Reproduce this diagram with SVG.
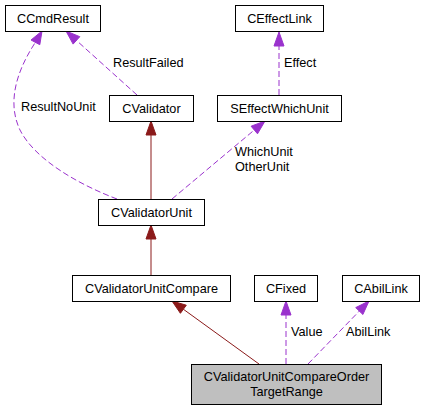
<svg xmlns="http://www.w3.org/2000/svg" width="425" height="411" viewBox="0 0 425 411">
<style>
text{font-family:"Liberation Sans",Arial,sans-serif;font-size:12.7px;fill:#000}
.box{fill:#fff;stroke:#000;stroke-width:1}
.cur{fill:#bfbfbf;stroke:#000;stroke-width:1}
.inh{stroke:#8b1a1a;fill:none;stroke-width:1}
.inhh{fill:#8b1a1a;stroke:#8b1a1a}
.use{stroke:#9a32cd;fill:none;stroke-width:1;stroke-dasharray:6,3}
.useh{fill:#9a32cd;stroke:#9a32cd}
</style>
<rect width="425" height="411" fill="#fff"/>
<g id="connectors">
<line class="inh" x1="151" y1="199" x2="151" y2="135"/>
<polygon class="inhh" points="146,135 151,121 156,135"/>
<line class="inh" x1="151" y1="275" x2="151" y2="239"/>
<polygon class="inhh" points="146,239 151,225 156,239"/>
<line class="inh" x1="259" y1="364" x2="183.3" y2="309.2"/>
<polygon class="inhh" points="180.4,313.3 172,301 186.3,305.2"/>
<line class="use" x1="286" y1="364" x2="286" y2="315"/>
<polygon class="useh" points="281,315 286,301 291,315"/>
<line class="use" x1="308" y1="364" x2="359.3" y2="311.1"/>
<polygon class="useh" points="362.9,314.5 369,301 355.7,307.6"/>
<line class="use" x1="279" y1="95" x2="279" y2="46"/>
<polygon class="useh" points="274,46 279,32 284,46"/>
<line class="use" x1="172" y1="199" x2="254.3" y2="130"/>
<polygon class="useh" points="257.5,133.8 265,121 251.1,126.2"/>
<line class="use" x1="137" y1="95" x2="76.4" y2="40.4"/>
<polygon class="useh" points="73.1,44.1 66,31 79.8,36.7"/>
<path class="use" d="M117,199 C80,185 35,160 20,130 C8,105 14,75 35.4,42.3"/>
<polygon class="useh" points="39.8,44.7 42,31 31,40"/>
<text x="113" y="67">ResultFailed</text>
<text x="21" y="111">ResultNoUnit</text>
<text x="284" y="67">Effect</text>
<text x="235" y="156">WhichUnit</text>
<text x="235" y="171">OtherUnit</text>
<text x="291" y="336">Value</text>
<text x="346" y="336">AbilLink</text>
</g>
<g id="CCmdResult"><rect class="box" x="5.5" y="5.5" width="95" height="26"/><text x="53" y="22.5" text-anchor="middle">CCmdResult</text></g>
<g id="CEffectLink"><rect class="box" x="235.5" y="5.5" width="88" height="26"/><text x="279.5" y="22.5" text-anchor="middle">CEffectLink</text></g>
<g id="CValidator"><rect class="box" x="109.5" y="95.5" width="84" height="26"/><text x="151.5" y="112.5" text-anchor="middle">CValidator</text></g>
<g id="SEffectWhichUnit"><rect class="box" x="217.5" y="95.5" width="124" height="26"/><text x="279.5" y="112.5" text-anchor="middle">SEffectWhichUnit</text></g>
<g id="CValidatorUnit"><rect class="box" x="98.5" y="199.5" width="106" height="26"/><text x="151.5" y="216.5" text-anchor="middle">CValidatorUnit</text></g>
<g id="CValidatorUnitCompare"><rect class="box" x="72.5" y="275.5" width="158" height="26"/><text x="151.5" y="292.5" text-anchor="middle">CValidatorUnitCompare</text></g>
<g id="CFixed"><rect class="box" x="254.5" y="275.5" width="63" height="26"/><text x="286" y="292.5" text-anchor="middle">CFixed</text></g>
<g id="CAbilLink"><rect class="box" x="342.5" y="275.5" width="77" height="26"/><text x="381" y="292.5" text-anchor="middle">CAbilLink</text></g>
<g id="CValidatorUnitCompareOrderTargetRange"><rect class="cur" x="191.5" y="364.5" width="190" height="40"/><text x="286.5" y="381" text-anchor="middle">CValidatorUnitCompareOrder</text><text x="286.5" y="395.5" text-anchor="middle">TargetRange</text></g>
</svg>
